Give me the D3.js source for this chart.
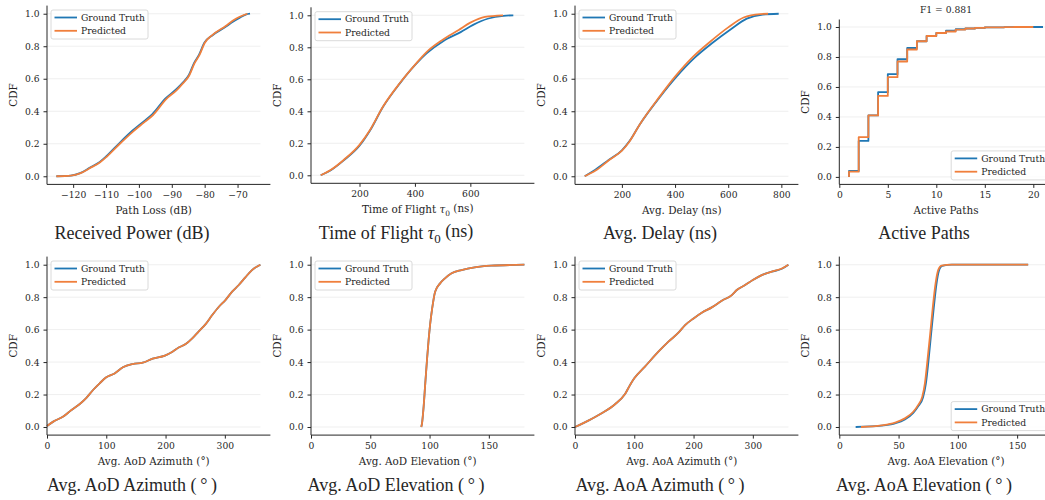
<!DOCTYPE html>
<html lang="en">
<head>
<meta charset="UTF-8">
<title>Predicted vs Ground Truth CDFs</title>
<script src="https://d3js.org/d3.v7.min.js"></script>
<style>
    body { margin: 0; background: #fff; }
    svg text { fill: #262626; }
    .tick text { font-family: "DejaVu Serif", serif; font-size: 9.2px; }
    .axis path, .axis line { stroke: #262626; }
    .xlabel, .ylabel { font-family: "DejaVu Serif", serif; font-size: 10.4px; }
    .legend text { font-family: "DejaVu Serif", serif; font-size: 9.2px; }
    .ptitle { font-family: "Liberation Serif", "Times New Roman", serif; font-size: 18px; }
    .grid line { stroke: #ebebeb; stroke-width: 0.8; }
</style>
</head>
<body>
<div id="chart"></div>
<script>
// ---- data: [x, CDF] pairs ----
const powerGT = [[-125.1,0],[-120.7,0.004],[-117.9,0.019],[-115,0.052],[-111.9,0.088],[-109.9,0.123],[-106,0.203],[-102,0.28],[-98.7,0.335],[-95.9,0.382],[-91.9,0.479],[-88.7,0.534],[-86.8,0.573],[-84.8,0.623],[-83.2,0.698],[-81.7,0.748],[-80.1,0.821],[-77.6,0.868],[-73.5,0.921],[-71.4,0.951],[-69.3,0.976],[-67.5,0.995],[-66.2,1.0]];
const powerPred = [[-125.1,0],[-120.7,0.004],[-117.9,0.018],[-114.9,0.05],[-111.8,0.086],[-109.8,0.12],[-105.8,0.2],[-101.8,0.275],[-98.5,0.33],[-95.7,0.377],[-91.7,0.475],[-88.5,0.53],[-86.7,0.57],[-84.7,0.62],[-83.1,0.695],[-81.6,0.745],[-80,0.82],[-77.6,0.87],[-73.6,0.925],[-71.6,0.955],[-69.5,0.98],[-67,1.0]];

const tofGT = [[60,0],[95,0.03],[142,0.092],[200,0.185],[238,0.28],[285,0.428],[345,0.573],[400,0.688],[442,0.762],[503,0.84],[565,0.895],[610,0.94],[665,0.98],[720,0.997],[755,1.0]];
const tofPred = [[60,0],[95.7,0.033],[143,0.096],[200,0.19],[238,0.283],[285,0.43],[345,0.575],[400,0.69],[440,0.767],[499,0.846],[558,0.908],[600,0.954],[653,0.99],[718,1.0]];

const delayGT = [[60,0],[100,0.04],[150,0.1],[200,0.16],[228,0.215],[266,0.316],[344,0.49],[404,0.61],[474,0.73],[540,0.82],[610,0.905],[670,0.97],[730,0.995],[790,1.0]];
const delayPred = [[60,0],[101,0.035],[152,0.1],[200,0.158],[228,0.213],[266,0.316],[342,0.49],[400,0.613],[468,0.736],[532,0.828],[600,0.916],[658,0.977],[721,0.998],[750,1.0]];

const pathsK = d3.range(1, 22);
const pathsGT = [0.04,0.24,0.41,0.565,0.685,0.785,0.86,0.905,0.94,0.96,0.975,0.985,0.99,0.994,0.997,0.998,0.999,0.999,1.0,1.0,1.0];
const pathsPred = [0.035,0.265,0.41,0.54,0.665,0.77,0.85,0.905,0.94,0.96,0.97,0.983,0.99,0.994,0.997,0.998,0.999,1.0,1.0,1.0];

const aodAzGT = [[0,0.006],[10.6,0.033],[27.4,0.064],[41.3,0.105],[55.3,0.142],[66.5,0.18],[77.7,0.228],[88.8,0.269],[100,0.306],[114,0.33],[128,0.368],[144.7,0.388],[161.5,0.396],[178.2,0.421],[198.9,0.44],[211.7,0.464],[222.9,0.491],[234,0.511],[245,0.546],[256.4,0.591],[267.6,0.634],[278.8,0.69],[290,0.741],[301,0.782],[312.3,0.834],[323.5,0.875],[334.6,0.922],[345.8,0.967],[360,1.0]];
const aodAzPred = [[0,0.006],[10.6,0.033],[27.4,0.064],[41.3,0.105],[55.3,0.142],[66.5,0.18],[77.7,0.228],[88.8,0.269],[100,0.306],[114,0.33],[128,0.368],[144.7,0.388],[161.5,0.396],[178.2,0.421],[198.9,0.44],[211.7,0.464],[222.9,0.491],[234,0.511],[245,0.546],[256.4,0.591],[267.6,0.634],[278.8,0.69],[290,0.741],[301,0.782],[312.3,0.834],[323.5,0.875],[334.6,0.922],[345.8,0.967],[360,1.0]];

const aodElGT = [[93,0],[93.6,0.02],[95,0.125],[96.4,0.27],[97.8,0.41],[99.2,0.536],[100.6,0.64],[102,0.72],[104.7,0.834],[108.9,0.885],[113,0.916],[118.6,0.947],[127,0.967],[138,0.984],[152,0.994],[180,1.0]];
const aodElPred = [[93,0],[93.6,0.02],[95,0.125],[96.4,0.27],[97.8,0.41],[99.2,0.536],[100.6,0.64],[102,0.72],[104.7,0.834],[108.9,0.885],[113,0.916],[118.6,0.947],[127,0.967],[138,0.984],[152,0.994],[180,1.0]];

const aoaAzGT = [[0,0],[22.5,0.039],[45,0.084],[67.5,0.14],[84.4,0.203],[92.9,0.259],[100,0.3],[118,0.372],[140.7,0.464],[157.6,0.526],[174.5,0.581],[185.7,0.628],[200,0.669],[213.8,0.704],[230.7,0.737],[247.6,0.778],[264.5,0.813],[272.9,0.844],[287,0.875],[300,0.906],[315,0.936],[332,0.957],[349,0.975],[360,1.0]];
const aoaAzPred = [[0,0],[22.5,0.039],[45,0.084],[67.5,0.14],[84.4,0.203],[92.9,0.259],[100,0.3],[118,0.372],[140.7,0.464],[157.6,0.526],[174.5,0.581],[185.7,0.628],[200,0.669],[213.8,0.704],[230.7,0.737],[247.6,0.778],[264.5,0.813],[272.9,0.844],[287,0.875],[300,0.906],[315,0.936],[332,0.957],[349,0.977],[360,1.0]];

const aoaElGT = [[13.8,0],[35.7,0.008],[47,0.022],[55.3,0.046],[62.4,0.087],[66.8,0.13],[70.6,0.182],[73,0.265],[75.2,0.405],[77.4,0.57],[79.7,0.735],[81.9,0.878],[84,0.962],[86.8,0.993],[95,1.0],[159.3,1.0]];
const aoaElPred = [[18.3,0],[35.7,0.01],[47,0.027],[55.3,0.053],[62.4,0.094],[66.6,0.136],[70,0.187],[72.2,0.269],[74.4,0.413],[76.7,0.577],[78.9,0.741],[81.2,0.885],[83.4,0.967],[86.2,0.994],[94.7,1.0],[159.3,1.0]];

const yTicks = [0, 0.2, 0.4, 0.6, 0.8, 1.0];
const seriesNames = ["Ground Truth", "Predicted"];
const colors = ["#1f77b4", "#f07f3c"];

// step data for the active-path counts
const pathsGTSteps = [[1, 0]].concat(pathsGT.map((v, i) => [pathsK[i], v]));
const pathsPredSteps = [[1, 0]].concat(pathsPred.map((v, i) => [pathsK[i], v]));

const tau = [{t: "Time of Flight "}, {t: "τ", it: true}, {t: "0", sub: true}, {t: " (ns)"}];
const deg = s => [{t: s + " ("}, {t: "\u2009°\u2009"}, {t: ")"}];

const panels = [
    {title: [{t: "Received Power (dB)"}], xlabel: [{t: "Path Loss (dB)"}], domain: [-127.95, -63.05], ticks: [-120,-110,-100,-90,-80,-70], gt: powerGT, pred: powerPred},
    {title: tau, xlabel: tau, domain: [25, 795], ticks: [200,400,600], gt: tofGT, pred: tofPred, top: 7.3, bottom: 183.3},
    {title: [{t: "Avg. Delay (ns)"}], xlabel: [{t: "Avg. Delay (ns)"}], domain: [23.5, 826.5], ticks: [200,400,600,800], gt: delayGT, pred: delayPred},
    {title: [{t: "Active Paths"}], xlabel: [{t: "Active Paths"}], domain: [0, 22], ticks: [0,5,10,15,20], gt: pathsGTSteps, pred: pathsPredSteps, step: true, top: 19.5, legend: "lower right", head: "F1 = 0.881"},
    {title: deg("Avg. AoD Azimuth"), xlabel: [{t: "Avg. AoD Azimuth (°)"}], domain: [0, 360], ticks: [0,100,200,300], gt: aodAzGT, pred: aodAzPred},
    {title: deg("Avg. AoD Elevation"), xlabel: [{t: "Avg. AoD Elevation (°)"}], domain: [0, 180], ticks: [0,50,100,150], gt: aodElGT, pred: aodElPred},
    {title: deg("Avg. AoA Azimuth"), xlabel: [{t: "Avg. AoA Azimuth (°)"}], domain: [0, 360], ticks: [0,100,200,300], gt: aoaAzGT, pred: aoaAzPred},
    {title: deg("Avg. AoA Elevation"), xlabel: [{t: "Avg. AoA Elevation (°)"}], domain: [0, 180], ticks: [0,50,100,150], gt: aoaElGT, pred: aoaElPred, legend: "lower right"}
];

const W = 1045, H = 500;
const colW = 264, axW = 213.4;
const rows = [{top: 5.6, bottom: 184.4, title: 239}, {top: 256.6, bottom: 435.1, title: 491}];

const svg = d3.select("#chart").append("svg")
    .attr("width", W).attr("height", H)
    .style("font-family", "DejaVu Serif, serif");

function writeParts(text, parts) {
    parts.forEach(p => {
        const ts = text.append("tspan").text(p.t);
        if (p.it) ts.style("font-style", "italic");
        if (p.sub) ts.attr("dy", "0.3em").style("font-size", "0.72em");
        else if (text.attr("data-sub") === "1") ts.attr("dy", "-0.3em");
        text.attr("data-sub", p.sub ? "1" : "0");
    });
}

panels.forEach((p, i) => {
    const r = rows[Math.floor(i / 4)];
    const c = i % 4;
    const left = 47 + colW * c + (c === 3 ? 0.3 : 0);
    const top = p.top !== undefined ? p.top : r.top;
    const bottom = p.bottom !== undefined ? p.bottom : r.bottom;

    const x = d3.scaleLinear().domain(p.domain).range([left, left + axW]);
    const y = d3.scaleLinear().domain([-0.05, 1.05]).range([bottom, top]);

    const g = svg.append("g");

    // horizontal grid
    g.append("g").attr("class", "grid")
        .selectAll("line").data(yTicks).enter().append("line")
        .attr("x1", left).attr("x2", left + axW)
        .attr("y1", d => y(d)).attr("y2", d => y(d));

    const line = d3.line()
        .x(d => x(d[0])).y(d => y(d[1]))
        .curve(p.step ? d3.curveStepAfter : d3.curveMonotoneX);

    [p.gt, p.pred].forEach((s, k) => {
        g.append("path").datum(s)
            .attr("fill", "none")
            .attr("stroke", colors[k])
            .attr("stroke-width", 1.8)
            .attr("stroke-linejoin", "round")
            .attr("d", line);
    });

    // axes
    g.append("g").attr("class", "axis")
        .attr("transform", `translate(0,${bottom})`)
        .call(d3.axisBottom(x).tickValues(p.ticks).tickSize(3.5).tickPadding(4)
            .tickFormat(d => d < 0 ? "\u2212" + Math.abs(d) : d))
        .call(a => a.select(".domain").attr("d", `M${left},0H${left + axW + 10}`));

    g.append("g").attr("class", "axis")
        .attr("transform", `translate(${left},0)`)
        .call(d3.axisLeft(y).tickValues(yTicks).tickSize(3.5).tickPadding(4).tickFormat(d3.format(".1f")))
        .call(a => a.select(".domain").attr("d", `M0,${bottom}V${top}`));

    // labels
    const xl = g.append("text").attr("class", "xlabel")
        .attr("x", left + axW / 2).attr("y", bottom + 30)
        .attr("text-anchor", "middle");
    writeParts(xl, p.xlabel);

    g.append("text").attr("class", "ylabel")
        .attr("transform", `translate(${left - 30},${(top + bottom) / 2}) rotate(-90)`)
        .attr("text-anchor", "middle")
        .text("CDF");

    const tt = g.append("text").attr("class", "ptitle")
        .attr("x", 132 + colW * c).attr("y", r.title)
        .attr("text-anchor", "middle");
    writeParts(tt, p.title);

    if (p.head) {
        g.append("text").attr("class", "legend")
            .attr("x", left + axW / 2).attr("y", 12.5)
            .attr("text-anchor", "middle")
            .style("font-family", "DejaVu Serif, serif").style("font-size", "9.2px")
            .text(p.head);
    }

    // legend
    const lw = 97, lh = 29;
    const lx = p.legend === "lower right" ? left + axW - 4.5 - lw : left + 4;
    const ly = p.legend === "lower right" ? bottom - 4.5 - lh : top + 4.4;
    const lg = g.append("g").attr("class", "legend").attr("transform", `translate(${lx},${ly})`);
    lg.append("rect").attr("width", lw).attr("height", lh)
        .attr("rx", 2).attr("fill", "#fff").attr("fill-opacity", 0.8)
        .attr("stroke", "#d0d0d0").attr("stroke-width", 0.8);
    seriesNames.forEach((n, k) => {
        const yy = 7.5 + k * 13.3;
        lg.append("line").attr("x1", 3.5).attr("x2", 26).attr("y1", yy).attr("y2", yy)
            .attr("stroke", colors[k]).attr("stroke-width", 1.8);
        lg.append("text").attr("x", 30).attr("y", yy).attr("dy", "0.35em").text(n);
    });
});
</script>
</body>
</html>
